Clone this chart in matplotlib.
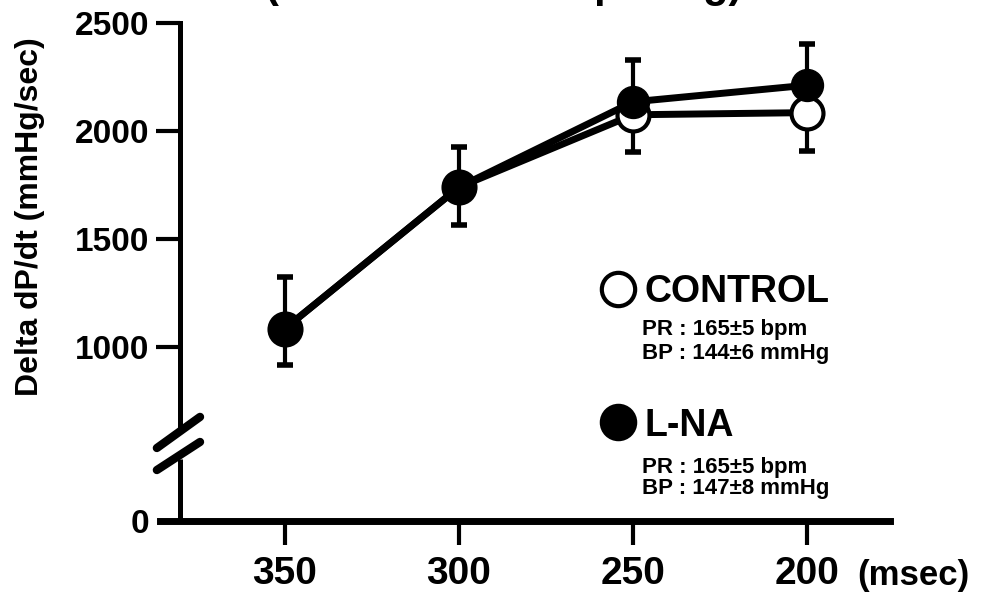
import matplotlib
matplotlib.use("Agg")
import matplotlib.pyplot as plt
import numpy as np

plt.rcParams['font.family'] = ['Liberation Sans', 'DejaVu Sans']
plt.rcParams['font.weight'] = 'bold'

# data
interval = [350, 300, 250, 200]
control_mean = [1085, 1740, 2075, 2085]
lna_mean = [1085, 1740, 2135, 2212]
lna_err_up = [240, 186, 194, 190]
control_err_down = [168, 175, 172, 176]

ytick_vals = [1000, 1500, 2000, 2500]
xtick_vals = [350, 300, 250, 200]

legend_info = [
    ("CONTROL", "white", ["PR : 165\u00b15 bpm", "BP : 144\u00b16 mmHg"]),
    ("L-NA", "black", ["PR : 165\u00b15 bpm", "BP : 147\u00b18 mmHg"]),
]

W, H = 987, 594
fig = plt.figure(figsize=(W / 100, H / 100), dpi=100)


def fx(px):
    return px / W


def fy(py):
    return 1 - py / H


ax = fig.add_axes([fx(160), fy(521), 730 / W, 498 / H])
ax.set_xlim(385.9, 176.2)
zero_pos = 194  # where "0" sits below the axis break
ax.set_ylim(zero_pos, 2500)

# lines
ax.plot(interval, control_mean, color='black', lw=5, zorder=2)
ax.plot(interval, lna_mean, color='black', lw=5, zorder=3)

# error bars: L-NA upward, control downward
ax.errorbar(interval, lna_mean, yerr=[np.zeros(4), lna_err_up], fmt='none',
            ecolor='black', elinewidth=3, capsize=5.5, capthick=4, zorder=1)
ax.errorbar(interval, control_mean, yerr=[control_err_down, np.zeros(4)], fmt='none',
            ecolor='black', elinewidth=3, capsize=5.5, capthick=4, zorder=1)

# markers
ax.plot(interval, control_mean, 'o', ms=23, mfc='white', mec='black', mew=3, zorder=4)
ax.plot(interval, lna_mean, 'o', ms=23, mfc='black', mec='black', mew=1, zorder=5)

# axes styling
ax.spines['top'].set_visible(False)
ax.spines['right'].set_visible(False)
ax.spines['bottom'].set_linewidth(5)
ax.spines['left'].set_linewidth(3.6)
yaxis_x = 380.2
ax.spines['left'].set_position(('data', yaxis_x))
break_hi, break_lo = 620, 480
ax.spines['left'].set_bounds(break_hi, 2500)
ax.plot([yaxis_x, yaxis_x], [zero_pos, break_lo], color='black', lw=3.6,
        solid_capstyle='butt', clip_on=False, zorder=1)
# break marks
for y0, y1 in [(532, 676), (430, 560)]:
    ax.plot([386.8, 374.4], [y0, y1], color='black', lw=6,
            solid_capstyle='round', clip_on=False, zorder=6)

ax.set_yticks([zero_pos] + ytick_vals)
ax.set_yticklabels(["0"] + [str(v) for v in ytick_vals])
ax.set_xticks(xtick_vals)
ax.set_xticklabels([str(v) for v in xtick_vals])
ax.tick_params(axis='y', length=17, width=3, pad=5, labelsize=24)
ax.tick_params(axis='x', length=17, width=3, pad=8, labelsize=28)
ax.yaxis.get_major_ticks()[0].tick1line.set_visible(False)

fig.text(fx(857), fy(585), "(msec)", fontsize=25, ha='left', va='baseline')

# y label
fig.text(fx(30), fy(217), "Delta dP/dt (mmHg/sec)", rotation=90,
         fontsize=23, ha='center', va='center')

# title, mostly cut off at the top edge
fig.text(fx(504), fy(-3), "(atrioventricular pacing)", fontsize=30,
         ha='center', va='baseline')

# legend drawn by hand
rows = [(289, 302, 335, 359), (422, 436, 473, 494)]
for (label, face, lines), (my, ty, l1, l2) in zip(legend_info, rows):
    fig.add_artist(plt.Line2D([fx(618)], [fy(my)], marker='o', ms=24,
                              mfc=face, mec='black', mew=3,
                              transform=fig.transFigure))
    fig.text(fx(645), fy(ty), label, fontsize=27, ha='left', va='baseline')
    fig.text(fx(642), fy(l1), lines[0], fontsize=16, ha='left', va='baseline')
    fig.text(fx(642), fy(l2), lines[1], fontsize=16, ha='left', va='baseline')

fig.savefig("out.png", dpi=100)
